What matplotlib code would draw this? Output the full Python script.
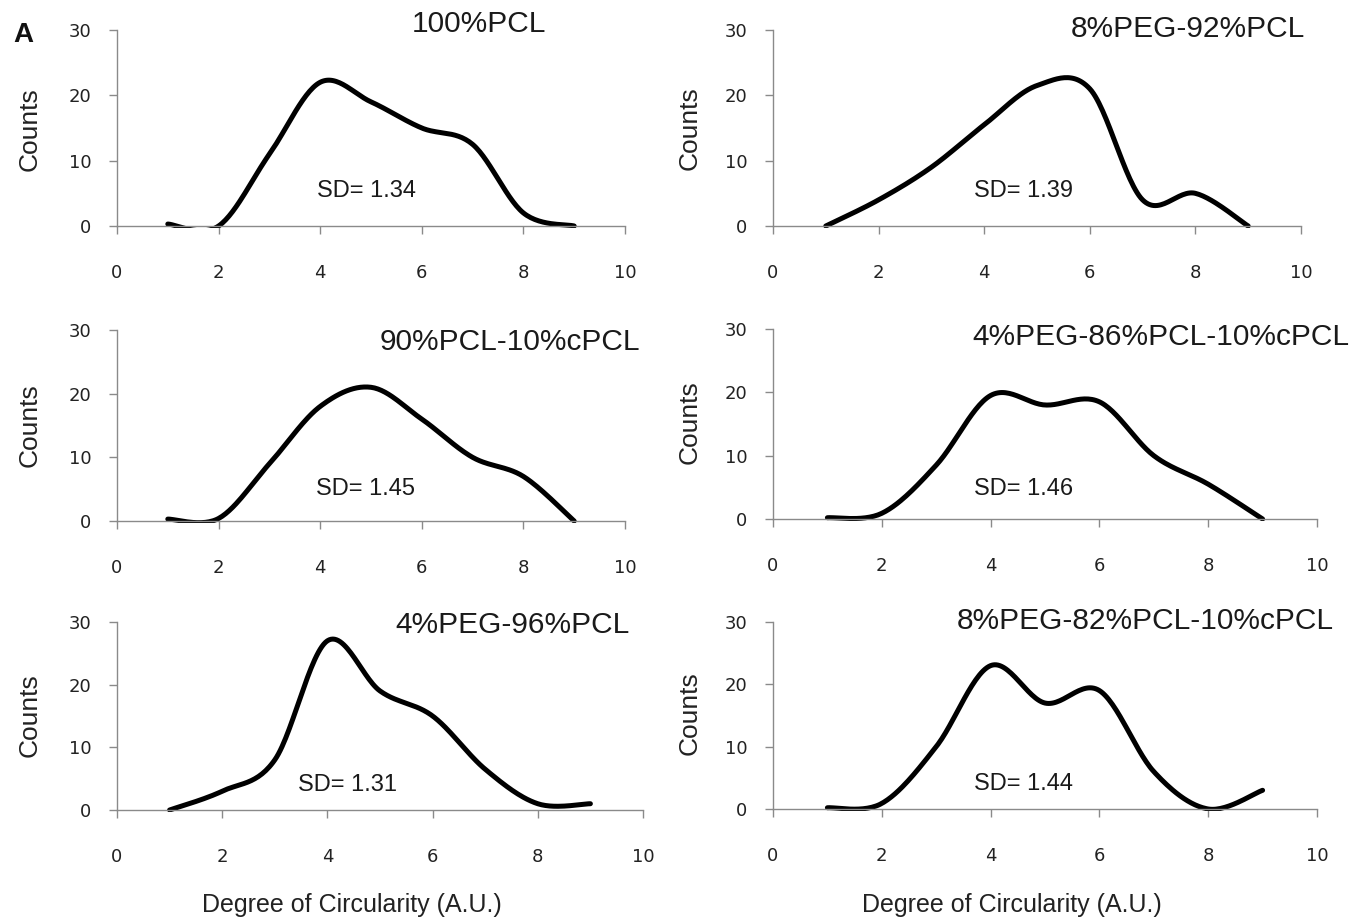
import numpy as np
import matplotlib
matplotlib.use("Agg")
import matplotlib.pyplot as plt
from matplotlib.patches import Rectangle

# ---------------- data ----------------
x_vals = [1, 2, 3, 4, 5, 6, 7, 8, 9]
titles = ["100%PCL", "8%PEG-92%PCL", "90%PCL-10%cPCL",
          "4%PEG-86%PCL-10%cPCL", "4%PEG-96%PCL", "8%PEG-82%PCL-10%cPCL"]
sd_labels = ["SD= 1.34", "SD= 1.39", "SD= 1.45", "SD= 1.46", "SD= 1.31", "SD= 1.44"]
counts_pcl100 = [0.3, 0, 11, 22, 19, 15, 12.5, 2, 0]
counts_peg8 = [0, 4, 9, 15.5, 21.5, 21, 4, 5, 0]
counts_pcl90_cpcl10 = [0.3, 0.4, 9, 18, 21, 16, 10, 7, 0]
counts_peg4_cpcl10 = [0.2, 0.9, 8.5, 19.5, 18, 18.5, 10, 5.5, 0]
counts_peg4 = [0, 3, 8, 27, 19, 15, 6.5, 1, 1]
counts_peg8_cpcl10 = [0.2, 0.9, 10, 23, 17, 19, 6, 0, 3]
series = [counts_pcl100, counts_peg8, counts_pcl90_cpcl10,
          counts_peg4_cpcl10, counts_peg4, counts_peg8_cpcl10]
x_ticks = [0, 2, 4, 6, 8, 10]
y_ticks = [0, 10, 20, 30]

W, H = 1371, 924
fig = plt.figure(figsize=(W / 100, H / 100), dpi=100)
plt.rcParams['font.family'] = ['Liberation Sans', 'DejaVu Sans']

def fx(px):
    return px / W

def fy(py):
    return 1 - py / H

def smooth(x, y, n=30):
    # Catmull-Rom style smoothing like a spreadsheet "smoothed line"
    x = np.asarray(x, float)
    y = np.asarray(y, float)
    px = np.concatenate([[x[0]], x, [x[-1]]])
    py = np.concatenate([[y[0]], y, [y[-1]]])
    xs, ys = [], []
    t = np.linspace(0, 1, n)
    for i in range(1, len(px) - 2):
        p0, p1, p2, p3 = py[i - 1], py[i], py[i + 1], py[i + 2]
        q0, q1, q2, q3 = px[i - 1], px[i], px[i + 1], px[i + 2]
        c1y = p1 + (p2 - p0) / 6
        c2y = p2 - (p3 - p1) / 6
        c1x = q1 + (q2 - q0) / 6
        c2x = q2 - (q3 - q1) / 6
        bx = (1 - t) ** 3 * q1 + 3 * (1 - t) ** 2 * t * c1x + 3 * (1 - t) * t ** 2 * c2x + t ** 3 * q2
        by = (1 - t) ** 3 * p1 + 3 * (1 - t) ** 2 * t * c1y + 3 * (1 - t) * t ** 2 * c2y + t ** 3 * p2
        xs.append(bx)
        ys.append(by)
    return np.concatenate(xs), np.concatenate(ys)

# axes boxes in pixels: left, right, top, bottom
boxes = [(117, 625, 30, 226), (773, 1301, 30, 226),
         (117, 625, 330, 521), (773, 1317, 329, 519),
         (117, 643, 622, 810), (773, 1317, 622, 809)]
title_pos = [(479, 24), (1188, 29), (510, 342), (1161, 337), (513, 625), (1145, 621)]
sd_pos = [(366, 191), (1024, 191), (365, 489), (1024, 489), (348, 785), (1024, 784)]
counts_pos = [(30, 129), (690, 128), (30, 425), (690, 422), (30, 715), (690, 713)]

axis_col = '#8a8a8a'
tick_col = '#222222'

for i, (b, ys) in enumerate(zip(boxes, series)):
    l, r, t, bt = b
    ax = fig.add_axes([fx(l), fy(bt), (r - l) / W, (bt - t) / H])
    sx, sy = smooth(x_vals, ys)
    line, = ax.plot(sx, sy, color='black', lw=3.6, solid_capstyle='round')
    clip = Rectangle((-0.02, -0.012), 1.1, 1.2, transform=ax.transAxes,
                     facecolor='none', edgecolor='none')
    ax.add_artist(clip)
    clip.set_visible(False)
    line.set_clip_path(clip)
    ax.set_xlim(0, 10)
    ax.set_ylim(0, 30)
    ax.set_xticks(x_ticks)
    ax.set_yticks(y_ticks)
    for s in ['top', 'right']:
        ax.spines[s].set_visible(False)
    for s in ['left', 'bottom']:
        ax.spines[s].set_color(axis_col)
        ax.spines[s].set_linewidth(1.0)
    ax.tick_params(axis='x', colors=axis_col, length=5.5, width=1.0, pad=22,
                   labelsize=13, labelcolor=tick_col)
    ax.tick_params(axis='y', colors=axis_col, length=5.5, width=1.0, pad=13,
                   labelsize=13, labelcolor=tick_col)
    for lab in ax.get_xticklabels() + ax.get_yticklabels():
        lab.set_family('DejaVu Sans')
    ax.patch.set_alpha(0)
    fig.text(fx(title_pos[i][0]), fy(title_pos[i][1]), titles[i], ha='center', va='center',
             fontsize=21.5, color='#1a1a1a')
    fig.text(fx(sd_pos[i][0]), fy(sd_pos[i][1]), sd_labels[i], ha='center', va='center',
             fontsize=17, color='#1a1a1a')
    fig.text(fx(counts_pos[i][0]), fy(counts_pos[i][1]), 'Counts', ha='center', va='center',
             rotation=90, fontsize=19, color='#222222')

fig.text(fx(352), fy(905), 'Degree of Circularity (A.U.)', ha='center', va='center',
         fontsize=18, color='#222222')
fig.text(fx(1012), fy(905), 'Degree of Circularity (A.U.)', ha='center', va='center',
         fontsize=18, color='#222222')
fig.text(fx(23), fy(35), 'A', ha='center', va='center', fontsize=20, fontweight='bold',
         color='#111111')

fig.savefig('out.png', dpi=100, facecolor='white')
